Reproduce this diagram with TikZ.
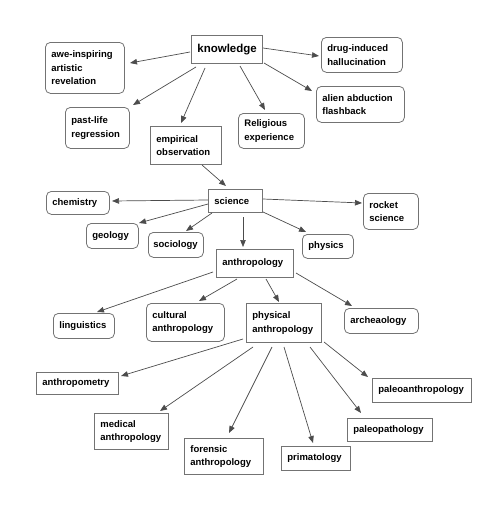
\documentclass[tikz,border=0pt]{standalone}
\usepackage{fontspec}
\setmainfont{Liberation Sans}
\usetikzlibrary{calc,arrows.meta}
\tikzset{
  base/.style={draw=black!55, line width=0.8pt, anchor=north west, inner xsep=6pt, inner ysep=0pt,
    align=left, font=\fontsize{9.5}{13.5}\selectfont\bfseries, text=black},
  sq/.style={base},
  rd/.style={base, rounded corners=5pt},
  arr/.style={draw=black!70, line width=0.7pt, -{Triangle[length=7pt,width=5.5pt]}},
}
\begin{document}
\begin{tikzpicture}[x=1pt,y=-1pt]
\useasboundingbox (0,0) rectangle (496,506);
% nodes
\node[sq, minimum width=71, minimum height=28, text width=59pt, font=\fontsize{11.5}{13}\selectfont\bfseries] (know) at (191,35) {knowledge};
\node[rd, minimum width=79, minimum height=51, text width=67pt] (awe) at (45,42) {awe-inspiring\\artistic\\revelation};
\node[rd, minimum width=64, minimum height=41, text width=52pt] (past) at (65,107) {past-life\\regression};
\node[sq, minimum width=71, minimum height=38, text width=59pt] (emp) at (150,126) {empirical\\observation};
\node[rd, minimum width=66, minimum height=35, text width=54pt] (rel) at (238,113) {Religious\\experience};
\node[rd, minimum width=81, minimum height=35, text width=69pt] (drug) at (321,37) {drug-induced\\hallucination};
\node[rd, minimum width=88, minimum height=36, text width=76pt] (alien) at (316,86) {alien abduction\\flashback};
\node[rd, minimum width=63, minimum height=23, text width=51pt] (chem) at (46,191) {chemistry};
\node[sq, minimum width=54, minimum height=23, text width=42pt] (sci) at (208,189) {science};
\node[rd, minimum width=52, minimum height=25, text width=40pt] (geo) at (86,223) {geology};
\node[rd, minimum width=55, minimum height=25, text width=45pt, inner xsep=5pt] (soc) at (148,232) {sociology};
\node[sq, minimum width=77, minimum height=28, text width=65pt] (anth) at (216,249) {anthropology};
\node[rd, minimum width=55, minimum height=36, text width=43pt] (rocket) at (363,193) {rocket\\science};
\node[rd, minimum width=51, minimum height=24, text width=39pt] (phys) at (302,234) {physics};
\node[rd, minimum width=61, minimum height=25, text width=49pt] (ling) at (53,313) {linguistics};
\node[rd, minimum width=78, minimum height=38, text width=66pt] (cult) at (146,303) {cultural\\anthropology};
\node[sq, minimum width=75, minimum height=39, text width=63pt] (physa) at (246,303) {physical\\anthropology};
\node[rd, minimum width=74, minimum height=25, text width=62pt] (arch) at (344,308) {archeaology};
\node[sq, minimum width=82, minimum height=22, text width=70pt] (anthm) at (36,372) {anthropometry};
\node[sq, minimum width=99, minimum height=24, text width=87pt] (paleoa) at (372,378) {paleoanthropology};
\node[sq, minimum width=74, minimum height=36, text width=62pt] (med) at (94,413) {medical\\anthropology};
\node[sq, minimum width=79, minimum height=36, text width=67pt] (foren) at (184,438) {forensic\\anthropology};
\node[sq, minimum width=85, minimum height=23, text width=73pt] (paleop) at (347,418) {paleopathology};
\node[sq, minimum width=69, minimum height=24, text width=57pt] (prim) at (281,446) {primatology};
% connectors
\draw[arr] ($(know.north west)+(-1,17)$) -- ($(awe.north west)+(85,21)$);
\draw[arr] ($(know.north west)+(5,32)$) -- ($(past.north west)+(68,-2)$);
\draw[arr] ($(know.north west)+(14,33)$) -- ($(emp.north west)+(31,-3)$);
\draw[arr] ($(know.north west)+(72,13)$) -- ($(drug.north west)+(-2,19)$);
\draw[arr] ($(know.north west)+(73,28)$) -- ($(alien.north west)+(-4,5)$);
\draw[arr] ($(know.north west)+(49,31)$) -- ($(rel.north west)+(27,-3)$);
\draw[arr] ($(emp.north west)+(52,39)$) -- ($(sci.north west)+(18,-3)$);
\draw[arr] ($(sci.north west)+(0,11)$) -- ($(chem.north west)+(66,10)$);
\draw[arr] ($(sci.north west)+(0,15)$) -- ($(geo.north west)+(53,0)$);
\draw[arr] ($(sci.north west)+(4,24)$) -- ($(soc.north west)+(38,-1)$);
\draw[arr] ($(sci.north west)+(35,28)$) -- ($(anth.north west)+(27,-2)$);
\draw[arr] ($(sci.north west)+(55,10)$) -- ($(rocket.north west)+(-1,10)$);
\draw[arr] ($(sci.north west)+(55,23)$) -- ($(phys.north west)+(4,-2)$);
\draw[arr] ($(anth.north west)+(-3,23)$) -- ($(ling.north west)+(44,-1)$);
\draw[arr] ($(anth.north west)+(21,30)$) -- ($(cult.north west)+(53,-2)$);
\draw[arr] ($(anth.north west)+(50,30)$) -- ($(physa.north west)+(33,-1)$);
\draw[arr] ($(anth.north west)+(80,24)$) -- ($(arch.north west)+(8,-2)$);
\draw[arr] ($(physa.north west)+(-3,36)$) -- ($(anthm.north west)+(85,4)$);
\draw[arr] ($(physa.north west)+(7,44)$) -- ($(med.north west)+(66,-2)$);
\draw[arr] ($(physa.north west)+(26,44)$) -- ($(foren.north west)+(45,-5)$);
\draw[arr] ($(physa.north west)+(38,44)$) -- ($(prim.north west)+(32,-3)$);
\draw[arr] ($(physa.north west)+(64,44)$) -- ($(paleop.north west)+(14,-5)$);
\draw[arr] ($(physa.north west)+(78,39)$) -- ($(paleoa.north west)+(-4,-1)$);
\end{tikzpicture}
\end{document}
